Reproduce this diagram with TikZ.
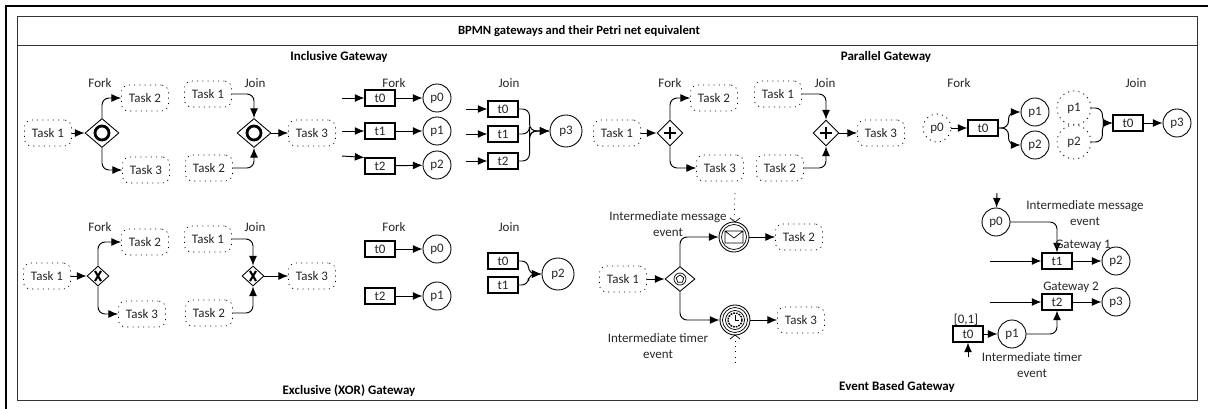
\documentclass[tikz,border=0pt]{standalone}
\usepackage{fontspec}
\setmainfont{Carlito}
\usetikzlibrary{arrows.meta,shapes.geometric}

\tikzset{
    lbl/.style={inner sep=0pt, align=center, text=black!85, font=\fontsize{7.4}{9}\selectfont},
    heading/.style={inner sep=0pt, font=\fontsize{7.4}{9}\selectfont\bfseries},
    taskbox/.style={draw, dash pattern=on .6pt off 2.4pt, rounded corners=4pt, minimum width=.94cm, minimum height=.52cm, inner sep=0pt, text=black!85, font=\fontsize{7.4}{9}\selectfont},
    gate/.style={draw, diamond, aspect=1.17, inner sep=0pt, line width=.5pt},
    trans/.style={draw, line width=.6pt, minimum width=.6cm, minimum height=.32cm, inner sep=0pt, text=black!85, font=\fontsize{7.4}{9}\selectfont},
    place/.style={draw, circle, line width=.5pt, minimum size=.56cm, inner sep=0pt, text=black!85, font=\fontsize{7.4}{9}\selectfont},
    dotplace/.style={place, dash pattern=on .6pt off 2.4pt},
    flow/.style={-{Latex[length=5.5pt,width=4.5pt]}, line width=.55pt, rounded corners=4pt},
    evt/.style={draw, circle, minimum size=.6cm, inner sep=0pt, line width=.5pt},
}

\begin{document}
\begin{tikzpicture}[x=.02cm, y=-.02cm]
    \useasboundingbox (0,0) rectangle (1208,409);

    % frame
    \draw[line width=1.1pt] (6,409) -- (6,6) -- (1208,6);
    \draw[line width=.55pt, black!80] (17,16) rectangle (1197,400);
    \draw[line width=.55pt, black!80] (17,45) -- (1197,45);

    \node[heading, font=\fontsize{7.2}{9}\selectfont\bfseries] (title) at (579,31) {BPMN gateways and their Petri net equivalent};
    \node[heading] (incl) at (339,57) {Inclusive Gateway};
    \node[heading] (para) at (886,57) {Parallel Gateway};
    \node[heading] (excl) at (349,391) {Exclusive (XOR) Gateway};
    \node[heading] (evnt) at (897,387) {Event Based Gateway};

    % fork and join labels
    \foreach \n/\x/\y/\m in {a/100/83/Fork, b/255/83/Join, c/394/83/Fork, d/509/83/Join,
        e/670/83/Fork, f/825/83/Join, g/959/83/Fork, h/1136/83/Join,
        i/100/227/Fork, j/255/227/Join, k/394/227/Fork, l/509/227/Join}
        \node[lbl] (lab\n) at (\x,\y) {\m};

    % inclusive
    \node[taskbox] (ia) at (48,133) {Task 1};
    \node[gate, minimum width=.68cm, minimum height=.58cm] (ig) at (102,133) {};
    \draw[line width=1.6pt] (ig.center) circle (7);
    \node[taskbox] (ib) at (145,98) {Task 2};
    \node[taskbox] (ic) at (146,170) {Task 3};
    \node[taskbox] (id) at (208,94) {Task 1};
    \node[taskbox] (ie) at (209,168) {Task 2};
    \node[gate, minimum width=.68cm, minimum height=.58cm] (ih) at (254,133) {};
    \draw[line width=1.6pt] (ih.center) circle (7);
    \node[taskbox] (ii) at (312,133) {Task 3};
    \draw[flow] (ia) -- (ig);
    \draw[flow] (ig) |- (ib);
    \draw[flow] (ig) |- (ic);
    \draw[flow] (id) -| (ih);
    \draw[flow] (ie) -| (ih);
    \draw[flow] (ih) -- (ii);

    \foreach \n/\y/\z in {0/98/98, 1/131/131, 2/166/165} {
        \node[trans] (ift\n) at (380,\y) {t\n};
        \node[place] (ifp\n) at (437,\z) {p\n};
        \draw[flow] (ift\n) -- (ifp\n);
    }
    \coordinate (ifi0) at (342,98);
    \coordinate (ifi1) at (342,131);
    \coordinate (ifi2) at (342,156);
    \draw[flow] (ifi0) -- (ift0);
    \draw[flow] (ifi1) -- (ift1);
    \draw[flow] (ifi2) -- (ift2.north west);

    \node[place, minimum size=.64cm] (ijp) at (566,131) {p3};
    \foreach \n/\y in {0/109, 1/134, 2/161} {
        \node[trans] (ijt\n) at (503,\y) {t\n};
        \coordinate (iji\n) at (466,\y);
        \draw[flow] (iji\n) -- (ijt\n);
        \draw[flow] (ijt\n.east) -- ++(11,0) |- (ijp.west);
    }

    % parallel
    \node[taskbox] (pa) at (617,133) {Task 1};
    \node[gate, minimum width=.52cm, minimum height=.52cm] (pg) at (670,133) {};
    \draw[line width=1.2pt] (664,133) -- (676,133) (670,127) -- (670,139);
    \node[taskbox] (pb) at (714,98) {Task 2};
    \node[taskbox] (pc) at (720,168) {Task 3};
    \node[taskbox] (pd) at (778,94) {Task 1};
    \node[taskbox] (pe) at (780,168) {Task 2};
    \node[gate, minimum width=.52cm, minimum height=.52cm] (ph) at (826,133) {};
    \draw[line width=1.2pt] (820,133) -- (832,133) (826,127) -- (826,139);
    \node[taskbox] (pi) at (881,133) {Task 3};
    \draw[flow] (pa) -- (pg);
    \draw[flow] (pg) |- (pb);
    \draw[flow] (pg) |- (pc);
    \draw[flow] (pd) -| (ph);
    \draw[flow] (pe) -| (ph);
    \draw[flow] (ph) -- (pi);

    \node[dotplace] (pfp) at (937,128) {p0};
    \node[trans] (pft) at (983,128) {t0};
    \node[place] (pfa) at (1035,112) {p1};
    \node[place] (pfb) at (1035,145) {p2};
    \draw[flow] (pfp) -- (pft);
    \draw[flow] (pft.east) -- ++(10,0) |- (pfa.west);
    \draw[flow] (pft.east) -- ++(10,0) |- (pfb.west);

    \node[dotplace, minimum size=.68cm] (pja) at (1074,108) {p1};
    \node[dotplace, minimum size=.68cm] (pjb) at (1074,142) {p2};
    \node[trans] (pjt) at (1128,123) {t0};
    \node[place] (pjp) at (1177,123) {p3};
    \draw[flow] (pja.east) -- ++(11,0) |- (pjt.west);
    \draw[flow] (pjb.east) -- ++(11,0) |- (pjt.west);
    \draw[flow] (pjt) -- (pjp);

    % exclusive
    \node[taskbox] (xa) at (47,276) {Task 1};
    \node[gate, minimum width=.44cm, minimum height=.4cm] (xg) at (98,276) {};
    \draw[line width=1.2pt] (95,271) -- (101,281) (101,271) -- (95,281);
    \node[taskbox] (xb) at (145,242) {Task 2};
    \node[taskbox] (xc) at (142,314) {Task 3};
    \node[taskbox] (xd) at (208,239) {Task 1};
    \node[taskbox] (xe) at (209,313) {Task 2};
    \node[gate, minimum width=.44cm, minimum height=.4cm] (xh) at (253,276) {};
    \draw[line width=1.2pt] (250,271) -- (256,281) (256,271) -- (250,281);
    \node[taskbox] (xi) at (312,276) {Task 3};
    \draw[flow] (xa) -- (xg);
    \draw[flow] (xg) |- (xb);
    \draw[flow] (xg) |- (xc);
    \draw[flow] (xd) -| (xh);
    \draw[flow] (xe) -| (xh);
    \draw[flow] (xh) -- (xi);

    \node[trans] (xft0) at (380,249) {t0};
    \node[place] (xfp0) at (437,249) {p0};
    \node[trans] (xft1) at (380,296) {t2};
    \node[place] (xfp1) at (437,296) {p1};
    \draw[flow] (xft0) -- (xfp0);
    \draw[flow] (xft1) -- (xfp1);

    \node[trans] (xjt0) at (503,261) {t0};
    \node[trans] (xjt1) at (503,285) {t1};
    \node[place, minimum size=.64cm] (xjp) at (558,274) {p2};
    \draw[flow] (xjt0.east) -- ++(10,0) |- (xjp.west);
    \draw[flow] (xjt1.east) -- ++(10,0) |- (xjp.west);

    % event based
    \node[taskbox] (ea) at (623,279) {Task 1};
    \node[gate, minimum width=.6cm, minimum height=.5cm] (eg) at (680,279) {};
    \draw (eg.center) circle (6);
    \node[regular polygon, regular polygon sides=5, draw, inner sep=0pt, minimum size=.16cm] (egp) at (680,279) {};
    \node[evt] (em) at (734,237) {};
    \draw (em.center) circle (12.5);
    \draw (725,231) rectangle (743,243) (725,231) -- (734,238) -- (743,231);
    \node[taskbox] (eb) at (799,237) {Task 2};
    \node[evt] (et) at (735,320) {};
    \draw (et.center) circle (12.5);
    \draw (et.center) circle (9.5);
    \draw[line width=.8pt, dash pattern=on 1pt off .6pt] (et.center) circle (7);
    \draw (735,315) -- (735,320) -- (739,320);
    \node[taskbox] (ec) at (801,320) {Task 3};
    \draw[flow] (ea) -- (eg);
    \draw[flow] (eg) |- (em);
    \draw[flow] (eg) |- (et);
    \draw[flow] (em) -- (eb);
    \draw[flow] (et) -- (ec);

    \coordinate (eda) at (735,193);
    \coordinate (edb) at (735,365);
    \draw[dash pattern=on .6pt off 2.4pt] (eda) -- (em.north);
    \draw[dash pattern=on .6pt off 2.4pt] (et.south) -- (edb);
    \draw[line width=.4pt] (730,218) -- (735,222) -- (740,218);
    \draw[line width=.4pt] (730,339) -- (735,335) -- (740,339);

    \node[lbl] (lma) at (668,224) {Intermediate message\\event};
    \node[lbl] (lmb) at (658,346) {Intermediate timer\\event};

    \node[place] (rp0) at (996,222) {p0};
    \node[trans] (rt1) at (1057,261) {t1};
    \node[place] (rp2) at (1116,261) {p2};
    \node[trans] (rt2) at (1057,302) {t2};
    \node[place] (rp3) at (1116,302) {p3};
    \node[trans] (rt0) at (968,334) {t0};
    \node[place] (rp1) at (1012,334) {p1};
    \coordinate (rc0) at (997,193);
    \coordinate (rc1) at (990,261);
    \coordinate (rc2) at (990,302);
    \coordinate (rc3) at (968,357);
    \draw[flow] (rc0) -- (rp0);
    \draw[flow] (rp0) -| (rt1);
    \draw[flow] (rc1) -- (rt1);
    \draw[flow] (rt1) -- (rp2);
    \draw[flow] (rc2) -- (rt2);
    \draw[flow] (rt2) -- (rp3);
    \draw[flow] (rc3) -- (rt0);
    \draw[flow] (rt0) -- (rp1);
    \draw[flow] (rp1) -| (rt2);

    \node[lbl] (rla) at (1085,213) {Intermediate message\\event};
    \node[lbl] (rlb) at (1083,245) {Gateway 1};
    \node[lbl] (rlc) at (1071,287) {Gateway 2};
    \node[lbl] (rld) at (966,320) {[0,1]};
    \node[lbl] (rle) at (1032,365) {Intermediate timer\\event};
\end{tikzpicture}
\end{document}
